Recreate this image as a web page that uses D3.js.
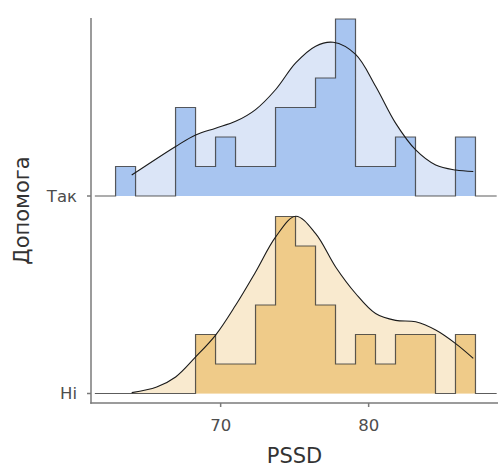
<!DOCTYPE html>
<html>
<head>
<meta charset="utf-8">
<script src="https://cdn.jsdelivr.net/npm/d3@7"></script>
<style>
  body { margin: 0; background: #fff; }
  svg text { font-family: "DejaVu Sans", sans-serif; }
</style>
</head>
<body>
<svg id="chart" width="499" height="467"></svg>
<script>
// groups, bottom to top
const groups = ["Ні", "Так"];

// histogram bins (PSSD)
const binStart = 62.9;
const binWidth = 1.351;
const countsTak = [1, 0, 0, 3, 1, 2, 1, 1, 3, 3, 4, 6, 1, 1, 2, 0, 0, 2];
const countsNi  = [0, 0, 0, 0, 2, 1, 1, 3, 6, 5, 3, 1, 2, 1, 2, 2, 0, 2];

// density curves (x = PSSD, y = height in count units)
const densXTak = [63.99, 66.96, 68.31, 69.66, 71.01, 72.36, 73.72, 75.07, 76.42, 77.61, 79.12, 80.47, 81.82, 83.18, 84.53, 85.88, 87.07];
const densYTak = [0.71, 1.68, 2.07, 2.30, 2.53, 2.93, 3.61, 4.51, 5.08, 5.21, 4.80, 3.72, 2.47, 1.56, 1.05, 0.88, 0.83];
const densXNi = [63.99, 65.68, 66.96, 68.31, 69.66, 71.01, 72.36, 73.72, 75.07, 76.42, 77.77, 79.12, 80.47, 81.82, 83.18, 84.53, 85.88, 87.07];
const densYNi = [0.03, 0.22, 0.56, 1.24, 1.98, 2.99, 4.12, 5.31, 6.01, 5.42, 4.29, 3.39, 2.71, 2.48, 2.43, 2.15, 1.69, 1.19];

const xTicks = [70, 80];

const colors = {
    "Так": { bar: "#a8c5f0", light: "#dbe5f7" },
    "Ні":  { bar: "#efcb89", light: "#f9eacf" }
};

const svg = d3.select("#chart");

const plotLeft = 91, plotRight = 498, plotTop = 18, plotBottom = 403;

const x = d3.scaleLinear().domain([61.24, 88.74]).range([plotLeft, plotRight]);
const yBase = d3.scalePoint().domain(groups).range([393.5, 196]);
const h = d3.scaleLinear().domain([0, 1]).range([0, 29.5]); // one count in px

const outlineMin = 61.5, outlineMax = 88.65;

function stepPoints(counts) {
    let pts = [[outlineMin, 0], [binStart, 0]];
    counts.forEach((c, i) => {
        pts.push([binStart + i * binWidth, c]);
        pts.push([binStart + (i + 1) * binWidth, c]);
    });
    pts.push([binStart + counts.length * binWidth, 0]);
    pts.push([outlineMax, 0]);
    return pts;
}

function drawRidge(name, counts, dx, dy) {
    const base = yBase(name);
    const g = svg.append("g");
    const dens = dx.map((v, i) => [v, dy[i]]);
    const steps = stepPoints(counts);

    const area = d3.area()
        .x(d => x(d[0]))
        .y0(base)
        .y1(d => base - h(d[1]));
    const line = d3.line()
        .x(d => x(d[0]))
        .y(d => base - h(d[1]));

    // density fill
    g.append("path")
        .attr("d", area.curve(d3.curveCatmullRom)(dens))
        .attr("fill", colors[name].light);

    // histogram fill
    g.append("path")
        .attr("d", area.curve(d3.curveLinear)(steps))
        .attr("fill", colors[name].bar);

    // histogram outline
    g.append("path")
        .attr("d", line.curve(d3.curveLinear)(steps))
        .attr("fill", "none")
        .attr("stroke", "#333")
        .attr("stroke-opacity", 0.8)
        .attr("stroke-width", 1.2);

    // density line
    g.append("path")
        .attr("d", line.curve(d3.curveCatmullRom)(dens))
        .attr("fill", "none")
        .attr("stroke", "#1a1a1a")
        .attr("stroke-width", 1.1);
}

drawRidge("Так", countsTak, densXTak, densYTak);
drawRidge("Ні", countsNi, densXNi, densYNi);

// axes
const axisColor = "#7a7a7a";

svg.append("line")
    .attr("x1", plotLeft).attr("x2", plotLeft)
    .attr("y1", plotTop).attr("y2", plotBottom + 0.75)
    .attr("stroke", axisColor).attr("stroke-width", 1.5);
svg.append("line")
    .attr("x1", plotLeft - 0.75).attr("x2", plotRight)
    .attr("y1", plotBottom).attr("y2", plotBottom)
    .attr("stroke", axisColor).attr("stroke-width", 1.5);

// x ticks
const xt = svg.append("g").selectAll("g").data(xTicks).enter().append("g");
xt.append("line")
    .attr("x1", d => x(d)).attr("x2", d => x(d))
    .attr("y1", plotBottom).attr("y2", plotBottom + 4)
    .attr("stroke", axisColor).attr("stroke-width", 1.5);
xt.append("text")
    .attr("x", d => x(d))
    .attr("y", 431)
    .attr("text-anchor", "middle")
    .attr("font-size", 16.5)
    .attr("fill", "#4d4d4d")
    .text(d => d);

// y ticks
const yt = svg.append("g").selectAll("g").data(groups).enter().append("g");
yt.append("line")
    .attr("x1", plotLeft - 4).attr("x2", plotLeft)
    .attr("y1", d => yBase(d)).attr("y2", d => yBase(d))
    .attr("stroke", axisColor).attr("stroke-width", 1.5);
yt.append("text")
    .attr("x", plotLeft - 14)
    .attr("y", d => yBase(d))
    .attr("dy", "0.36em")
    .attr("text-anchor", "end")
    .attr("font-size", 16.5)
    .attr("fill", "#4d4d4d")
    .text(d => d);

// titles
svg.append("text")
    .attr("x", (plotLeft + plotRight) / 2)
    .attr("y", 463)
    .attr("text-anchor", "middle")
    .attr("font-size", 21)
    .attr("fill", "#333")
    .text("PSSD");

svg.append("text")
    .attr("transform", "translate(29," + ((plotTop + plotBottom) / 2) + ") rotate(-90)")
    .attr("text-anchor", "middle")
    .attr("font-size", 21)
    .attr("fill", "#333")
    .text("Допомога");
</script>
</body>
</html>
